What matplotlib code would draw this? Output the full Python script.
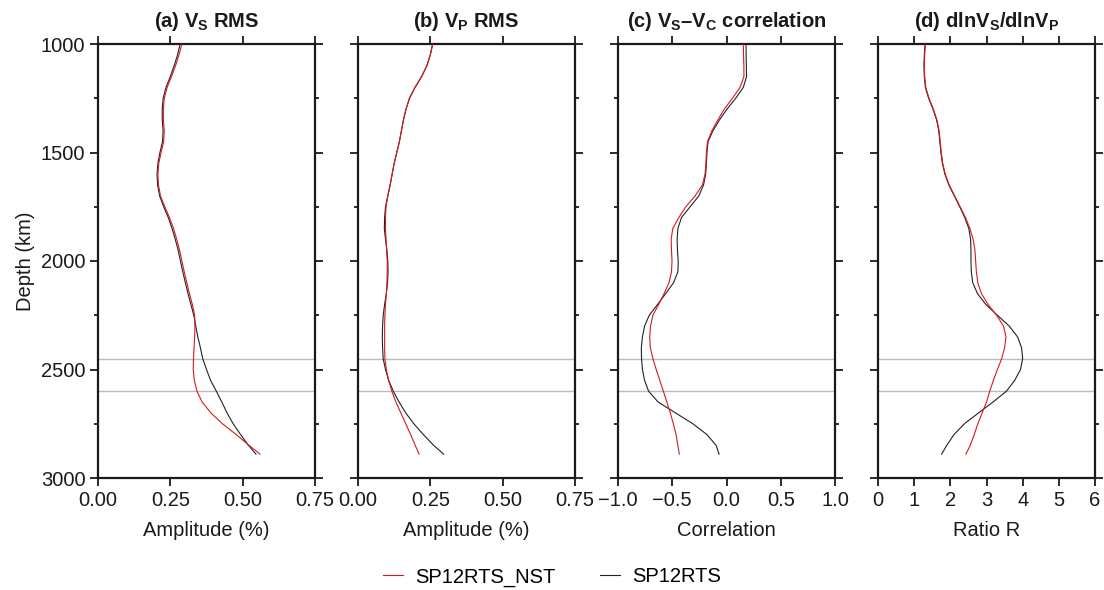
import matplotlib
matplotlib.use('Agg')
import matplotlib.pyplot as plt
from matplotlib.ticker import MultipleLocator, FuncFormatter

plt.rcParams['font.family'] = ['Liberation Sans', 'DejaVu Sans']
plt.rcParams['mathtext.fontset'] = 'custom'
plt.rcParams['mathtext.rm'] = 'Liberation Sans:bold'
plt.rcParams['mathtext.it'] = 'Liberation Sans:bold'
plt.rcParams['mathtext.bf'] = 'Liberation Sans:bold'

# depth grid (km), shared by all curves
depth = [1000, 1050, 1100, 1150, 1200, 1250, 1300, 1350, 1400, 1450,
         1500, 1550, 1600, 1650, 1700, 1750, 1800, 1850, 1900, 1950,
         2000, 2050, 2100, 2150, 2200, 2250, 2300, 2350, 2400, 2450,
         2500, 2550, 2600, 2650, 2700, 2750, 2800, 2850, 2890]

# (a) Vs RMS amplitude (%)
vs_rms_rts = [.284, .275, .263, .250, .235, .225, .222, .222, .225, .223,
              .214, .207, .204, .206, .213, .227, .243, .256, .267, .277,
              .285, .293, .302, .311, .321, .331, .338, .345, .354, .362,
              .375, .389, .409, .428, .446, .467, .493, .520, .546]
vs_rms_nst = [.290, .280, .268, .254, .239, .229, .226, .226, .229, .227,
              .218, .210, .207, .209, .216, .231, .247, .261, .272, .282,
              .290, .298, .307, .316, .326, .334, .335, .334, .332, .330,
              .329, .333, .342, .360, .390, .430, .478, .522, .560]

# (b) Vp RMS amplitude (%)
vp_rms_rts = [.258, .250, .238, .220, .197, .178, .166, .157, .150, .143,
              .134, .125, .118, .111, .103, .095, .092, .091, .095, .100,
              .103, .104, .102, .098, .092, .087, .085, .084, .085, .087,
              .095, .106, .122, .142, .165, .193, .226, .262, .296]
vp_rms_nst = [.258, .250, .238, .220, .197, .178, .166, .157, .150, .143,
              .134, .125, .118, .111, .103, .097, .095, .095, .097, .099,
              .101, .101, .100, .098, .095, .093, .092, .092, .092, .093,
              .098, .106, .117, .131, .148, .165, .182, .198, .211]

# (c) Vs-Vc correlation
corr_rts = [.180, .181, .183, .185, .155, .085, .005, -.065, -.125, -.170,
            -.180, -.185, -.192, -.212, -.255, -.335, -.415, -.448, -.455, -.452,
            -.445, -.448, -.488, -.560, -.635, -.712, -.755, -.775, -.785, -.783,
            -.775, -.755, -.718, -.630, -.470, -.310, -.180, -.095, -.069]
corr_nst = [.155, .157, .160, .161, .125, .055, -.020, -.080, -.135, -.175,
            -.185, -.190, -.198, -.222, -.290, -.375, -.440, -.495, -.510, -.507,
            -.502, -.507, -.530, -.575, -.625, -.678, -.700, -.708, -.702, -.678,
            -.648, -.615, -.582, -.550, -.518, -.490, -.465, -.448, -.435]

# (d) dlnVs/dlnVp ratio
ratio_rts = [1.30, 1.28, 1.27, 1.28, 1.31, 1.40, 1.52, 1.62, 1.68, 1.71,
             1.74, 1.78, 1.85, 1.96, 2.11, 2.26, 2.40, 2.51, 2.56, 2.57,
             2.57, 2.58, 2.62, 2.75, 2.98, 3.30, 3.63, 3.86, 3.97, 4.00,
             3.94, 3.78, 3.55, 3.18, 2.78, 2.39, 2.10, 1.90, 1.76]
ratio_nst = [1.31, 1.29, 1.28, 1.29, 1.32, 1.41, 1.53, 1.63, 1.69, 1.72,
             1.75, 1.79, 1.86, 1.97, 2.12, 2.27, 2.42, 2.54, 2.63, 2.68,
             2.70, 2.72, 2.76, 2.86, 3.04, 3.28, 3.47, 3.54, 3.50, 3.42,
             3.30, 3.19, 3.09, 3.00, 2.88, 2.76, 2.66, 2.55, 2.43]

ref_depths = [2450, 2600]

titles = [r'(a) V$_\mathrm{S}$ RMS', r'(b) V$_\mathrm{P}$ RMS',
          r'(c) V$_\mathrm{S}$–V$_\mathrm{C}$ correlation',
          r'(d) dlnV$_\mathrm{S}$/dlnV$_\mathrm{P}$']
xlabels = ['Amplitude (%)', 'Amplitude (%)', 'Correlation', 'Ratio R']
xlims = [(0, 0.75), (0, 0.75), (-1, 1), (0, 6)]
xsteps = [0.25, 0.25, 0.5, 1]
xfmts = ['%.2f', '%.2f', '%.1f', '%d']
series = [(vs_rms_nst, vs_rms_rts), (vp_rms_nst, vp_rms_rts),
          (corr_nst, corr_rts), (ratio_nst, ratio_rts)]

red = '#d7191c'
black = '#222222'
ink = '#1a1a1a'
fs = 14.5


def make_fmt(f):
    return FuncFormatter(lambda v, pos: (f % v).replace('-', '\u2212'))


W, H = 1104, 590
fig = plt.figure(figsize=(W / 100, H / 100), dpi=100)
lefts = [98, 358, 618, 878]
axw = 217
top, bot = 44, 478

for i in range(4):
    ax = fig.add_axes([lefts[i] / W, 1 - bot / H, axw / W, (bot - top) / H])
    for d in ref_depths:
        ax.axhline(d, color='#bbbbbb', lw=1.0, zorder=1)
    nst, rts = series[i]
    l1, = ax.plot(nst, depth, color=red, lw=0.8, zorder=3)
    l2, = ax.plot(rts, depth, color=black, lw=0.8, zorder=2)
    ax.set_ylim(3000, 1000)
    ax.set_xlim(*xlims[i])
    ax.xaxis.set_major_locator(MultipleLocator(xsteps[i]))
    ax.xaxis.set_major_formatter(make_fmt(xfmts[i]))
    ax.yaxis.set_major_locator(MultipleLocator(500))
    ax.yaxis.set_minor_locator(MultipleLocator(250))
    ax.tick_params(which='both', direction='out', top=True, right=True,
                   labelsize=fs, width=1.3, color=ink, labelcolor=ink)
    ax.tick_params(which='major', length=6, pad=3)
    ax.tick_params(which='minor', length=3)
    for s in ax.spines.values():
        s.set_linewidth(1.6)
        s.set_color(ink)
    if i > 0:
        ax.tick_params(labelleft=False)
    else:
        ax.set_ylabel('Depth (km)', fontsize=fs, labelpad=4, color=ink)
    ax.set_xlabel(xlabels[i], fontsize=fs, labelpad=8, color=ink)
    ax.set_title(titles[i], fontsize=fs, fontweight='bold', pad=12, color=ink)

fig.legend([l1, l2], ['SP12RTS_NST', 'SP12RTS'], loc='lower center',
           bbox_to_anchor=(0.5, -0.025), ncol=2, frameon=False, fontsize=fs,
           handlelength=1.0, columnspacing=2.2, handletextpad=0.6)

fig.savefig('out.png', dpi=100)
